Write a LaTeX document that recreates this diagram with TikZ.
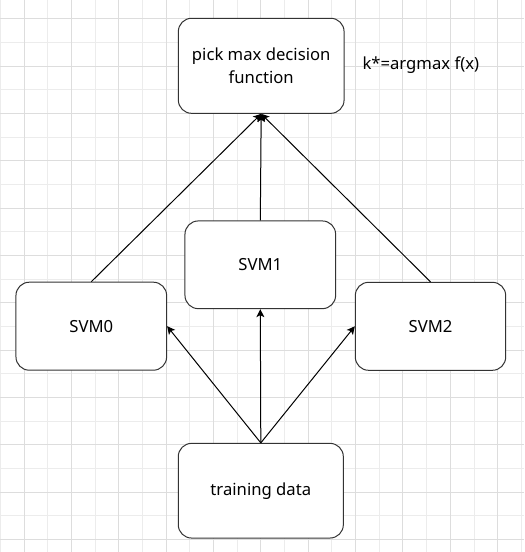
\documentclass[tikz,border=0pt]{standalone}
\usepackage{fontspec}
\setmainfont{Noto Sans}
\usetikzlibrary{arrows.meta}
\definecolor{gridminor}{RGB}{236,236,236}
\definecolor{gridmajor}{RGB}{221,221,221}
\definecolor{boxline}{RGB}{51,51,51}

\begin{document}
\begin{tikzpicture}[x=0.75pt, y=-0.75pt, >={Stealth[length=6pt,width=6pt,inset=1.5pt]},
  box/.style={draw=boxline, line width=0.75pt, rectangle, rounded corners=10pt, align=center, fill=white, inner sep=0pt, font=\fontsize{12.5}{17.5}\selectfont},
  wire/.style={->, line width=0.75pt}]
\useasboundingbox (0,0) rectangle (524,552);
\fill[white] (0,0) rectangle (524,552);

% background grid
\foreach \i in {0,...,22} \draw[gridminor, line width=0.75pt] ({0.6+23.67*\i},0) -- ({0.6+23.67*\i},552);
\foreach \j in {0,...,24} \draw[gridminor, line width=0.75pt] (0,{-5+23.67*\j}) -- (524,{-5+23.67*\j});
\foreach \i in {1,3,...,21} \draw[gridmajor, line width=0.75pt] ({0.6+23.67*\i},0) -- ({0.6+23.67*\i},552);
\foreach \j in {1,3,...,23} \draw[gridmajor, line width=0.75pt] (0,{-5+23.67*\j}) -- (524,{-5+23.67*\j});

\node[box, minimum width=124.3pt, minimum height=71.3pt] (pick) at (261.2,65.8) {pick max decision\\function};
\node[box, minimum width=113pt, minimum height=66pt] (svm0) at (91.3,326.2) {SVM0};
\node[box, minimum width=113pt, minimum height=65.8pt] (svm1) at (260.3,264.8) {SVM1};
\node[box, minimum width=112.8pt, minimum height=66pt] (svm2) at (430.5,326.3) {SVM2};
\node[box, minimum width=123.8pt, minimum height=71pt] (data) at (260.8,490.7) {training data};
\node[font=\fontsize{12.5}{17.5}\selectfont, inner sep=0pt] (argmax) at (420.8,65) {k*=argmax f(x)};

\draw[wire] (data.north) -- (svm0.east);
\draw[wire] (data.north) -- (svm1.south);
\draw[wire] (data.north) -- (svm2.west);
\draw[wire] (svm0.north) -- (pick.south);
\draw[wire] (svm1.north) -- (pick.south);
\draw[wire] (svm2.north) -- (pick.south);
\end{tikzpicture}
\end{document}
